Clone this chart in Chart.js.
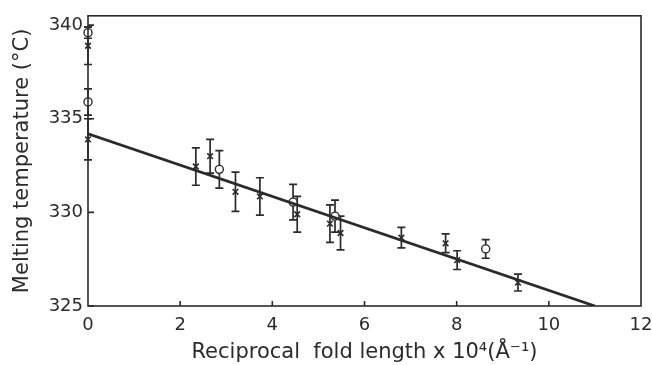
<!DOCTYPE html>
<html>
<head>
<meta charset="utf-8">
<script src="https://cdn.jsdelivr.net/npm/chart.js@4/dist/chart.umd.min.js"></script>
<style>
  body { margin: 0; background: #fff; }
  #wrap { width: 652px; height: 365px; }
</style>
</head>
<body>
<div id="wrap"><canvas id="tmChart"></canvas></div>
<script>
// reciprocal fold length (x 10^4 1/A) vs melting temperature (C)
const crossX   = [0, 0, 2.34, 2.65, 3.2, 3.73, 4.54, 5.25, 5.48, 6.8, 7.76, 8.01, 9.33];
const crossT   = [338.9, 333.9, 332.45, 333.0, 331.1, 330.85, 329.9, 329.4, 328.9, 328.65, 328.35, 327.45, 326.25];
const crossErr = [1.0, 1.1, 1.0, 0.9, 1.05, 1.0, 0.95, 1.0, 0.9, 0.55, 0.5, 0.5, 0.45];

const circX   = [0, 0, 2.85, 4.45, 5.36, 8.63];
const circT   = [339.6, 335.9, 332.3, 330.55, 329.8, 328.05];
const circErr = [0.3, 0.7, 1.0, 0.95, 0.85, 0.5];

// least squares line
const fitX = [0, 11.0];
const fitT = [334.2, 325];

const xTicks = [0, 2, 4, 6, 8, 10, 12];
const yTicks = [325, 330, 335, 340];

const ink = '#2b2b2b';
const tickFont = { family: 'DejaVu Sans', size: 18 };
const titleFont = { family: 'DejaVu Sans', size: 21 };

const pts = (xs, ys) => xs.map((x, i) => ({ x: x, y: ys[i] }));

// vertical error bars with caps, drawn under the markers
const errorBars = {
  id: 'errorBars',
  beforeDatasetsDraw(chart) {
    const { ctx, scales: { x, y } } = chart;
    const sets = [[crossX, crossT, crossErr], [circX, circT, circErr]];
    ctx.save();
    ctx.strokeStyle = ink;
    ctx.lineWidth = 1.7;
    sets.forEach(([xs, ys, es]) => {
      xs.forEach((v, i) => {
        const px = x.getPixelForValue(v);
        const top = y.getPixelForValue(ys[i] + es[i]);
        const bot = y.getPixelForValue(ys[i] - es[i]);
        ctx.beginPath();
        ctx.moveTo(px, top); ctx.lineTo(px, bot);
        ctx.moveTo(px - 4, top); ctx.lineTo(px + 4, top);
        ctx.moveTo(px - 4, bot); ctx.lineTo(px + 4, bot);
        ctx.stroke();
      });
    });
    ctx.restore();
  }
};

// box frame and inward tick marks
const frame = {
  id: 'frame',
  afterDraw(chart) {
    const { ctx, chartArea: a, scales: { x, y } } = chart;
    ctx.save();
    ctx.strokeStyle = ink;
    ctx.lineWidth = 1.6;
    ctx.strokeRect(a.left, a.top, a.right - a.left, a.bottom - a.top);
    ctx.beginPath();
    xTicks.slice(1, -1).forEach(v => {
      const px = x.getPixelForValue(v);
      ctx.moveTo(px, a.bottom); ctx.lineTo(px, a.bottom - 5);
    });
    yTicks.forEach(v => {
      const py = y.getPixelForValue(v);
      ctx.moveTo(a.left, py); ctx.lineTo(a.left + 6, py);
    });
    ctx.stroke();
    ctx.restore();
  }
};

new Chart(document.getElementById('tmChart'), {
  type: 'scatter',
  data: {
    datasets: [
      {
        type: 'line',
        data: pts(fitX, fitT),
        borderColor: ink,
        borderWidth: 2.8,
        pointRadius: 0,
        fill: false
      },
      {
        data: pts(crossX, crossT),
        pointStyle: 'crossRot',
        pointRadius: 4,
        borderColor: ink,
        borderWidth: 1.6,
        clip: false
      },
      {
        data: pts(circX, circT),
        pointStyle: 'circle',
        pointRadius: 4,
        backgroundColor: '#fff',
        borderColor: ink,
        borderWidth: 1.4,
        clip: false
      }
    ]
  },
  options: {
    responsive: true,
    maintainAspectRatio: false,
    animation: false,
    layout: { padding: { top: 15, right: 11, left: 0, bottom: 0 } },
    plugins: {
      legend: { display: false },
      tooltip: { enabled: false }
    },
    scales: {
      x: {
        type: 'linear',
        min: 0,
        max: 12,
        afterBuildTicks: s => { s.ticks = xTicks.map(v => ({ value: v })); },
        afterFit: s => {
          s.height = 59;
          s.paddingLeft = 0;
          s.paddingRight = 0;
        },
        ticks: { color: ink, font: tickFont, padding: 9 },
        grid: { display: false, drawTicks: false },
        border: { display: false },
        title: {
          display: true,
          text: 'Reciprocal  fold length x 10\u2074(\u00c5\u207b\u00b9)',
          color: ink,
          font: titleFont,
          padding: { top: 0, bottom: 0 }
        }
      },
      y: {
        min: 325,
        max: 340.5,
        afterBuildTicks: s => { s.ticks = yTicks.map(v => ({ value: v })); },
        afterFit: s => { s.width = 88; },
        ticks: { color: ink, font: tickFont, padding: 5 },
        grid: { display: false, drawTicks: false },
        border: { display: false },
        title: {
          display: true,
          text: 'Melting temperature (\u00b0C)',
          color: ink,
          font: titleFont,
          padding: { top: 10, bottom: 0 }
        }
      }
    }
  },
  plugins: [errorBars, frame]
});
</script>
</body>
</html>
